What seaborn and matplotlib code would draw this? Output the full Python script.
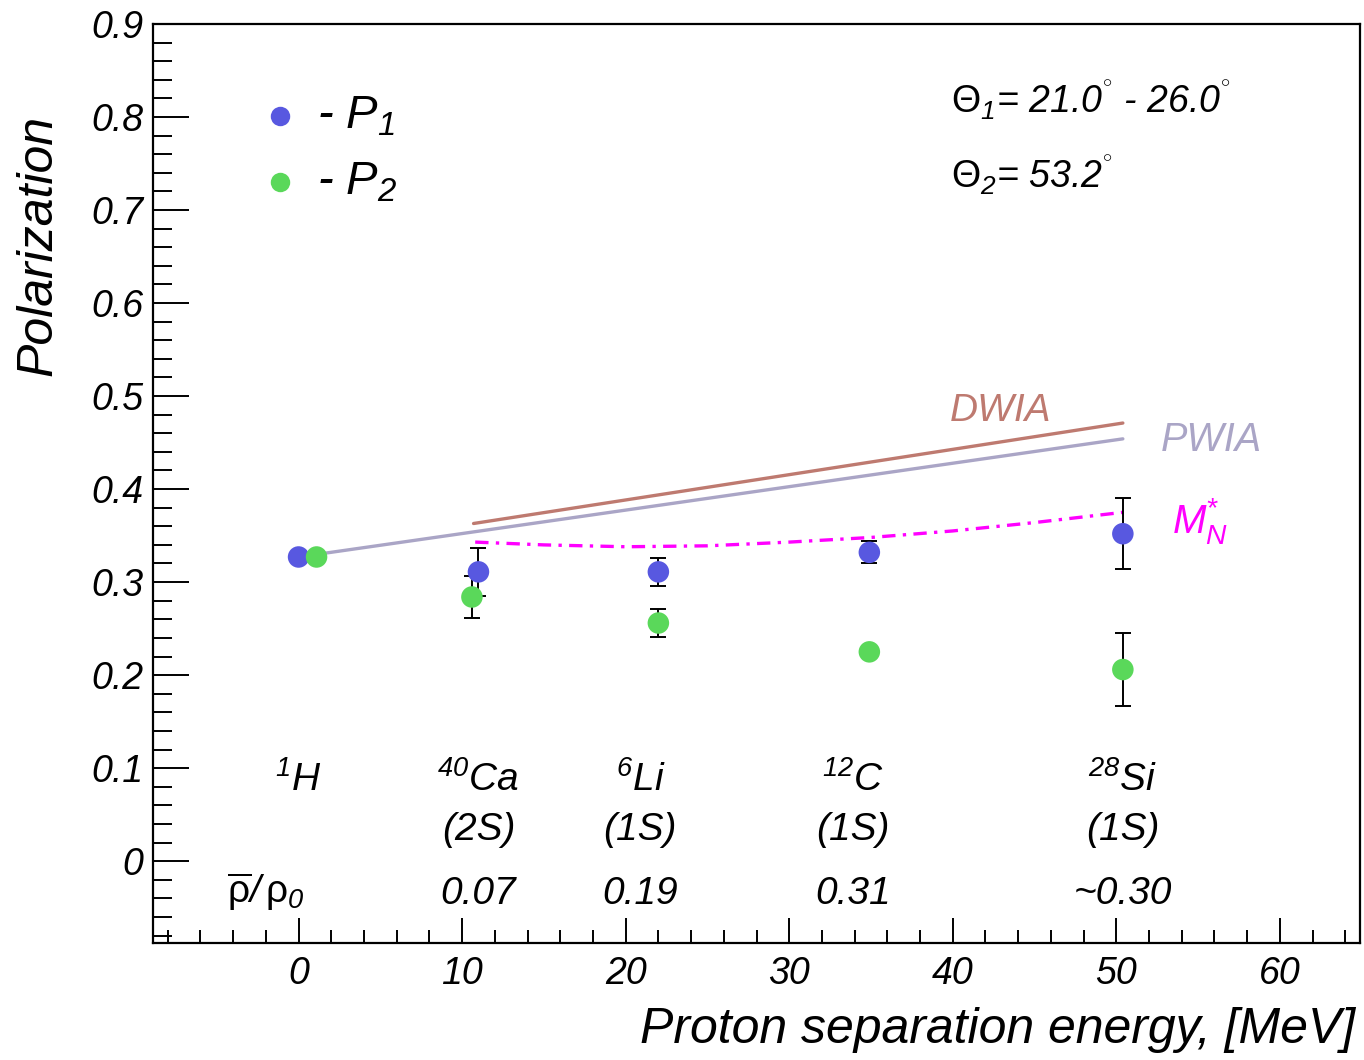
import numpy as np
import pandas as pd
import matplotlib
matplotlib.use("Agg")
import matplotlib.pyplot as plt
import seaborn as sns

# ---------------- data ----------------
x_p1 = [0.0, 11.0, 22.0, 34.9, 50.4]
p1 = [0.327, 0.311, 0.311, 0.332, 0.352]
p1_err = [0.0, 0.026, 0.015, 0.012, 0.038]

x_p2 = [1.1, 10.6, 22.0, 34.9, 50.4]
p2 = [0.327, 0.284, 0.256, 0.225, 0.206]
p2_err = [0.0, 0.023, 0.015, 0.006, 0.039]

pwia_x = [0.0, 50.4]
pwia_y = [0.327, 0.454]
dwia_x = [10.7, 50.4]
dwia_y = [0.363, 0.471]
mn_x = [10.8, 15.0, 20.0, 25.0, 30.0, 35.0, 40.0, 45.0, 50.4]
mn_y = [0.343, 0.340, 0.338, 0.339, 0.343, 0.348, 0.355, 0.364, 0.375]

nuclei_x = [0.0, 11.0, 20.9, 33.9, 50.4]
nuclei = [r"$^{1}$H", r"$^{40}$Ca", r"$^{6}$Li", r"$^{12}$C", r"$^{28}$Si"]
shells = ["", "(2S)", "(1S)", "(1S)", "(1S)"]
densities = ["", "0.07", "0.19", "0.31", "~0.30"]

C_BLUE = "#5858e0"
C_GREEN = "#5ad85a"
C_DWIA = "#be7a70"
C_PWIA = "#aaa5c6"
C_MN = "#ff00ff"

# ---------------- style ----------------
sns.set_style("ticks")
plt.rcParams["font.family"] = ["Liberation Sans", "DejaVu Sans"]
plt.rcParams["font.style"] = "italic"
plt.rcParams["text.color"] = "black"
plt.rcParams["axes.labelcolor"] = "black"
plt.rcParams["xtick.color"] = "black"
plt.rcParams["ytick.color"] = "black"
plt.rcParams["mathtext.fontset"] = "custom"
plt.rcParams["mathtext.rm"] = "Liberation Sans:italic"
plt.rcParams["mathtext.it"] = "Liberation Sans:italic"
plt.rcParams["mathtext.sf"] = "Liberation Sans:style=normal"

fig = plt.figure(figsize=(13.64, 10.60), dpi=100)
ax = fig.add_axes([153 / 1364, 1 - 943 / 1060, (1360 - 153) / 1364, (943 - 24) / 1060])

# theory curves
df_pw = pd.DataFrame({"x": pwia_x, "y": pwia_y})
df_dw = pd.DataFrame({"x": dwia_x, "y": dwia_y})
df_mn = pd.DataFrame({"x": mn_x, "y": mn_y})
sns.lineplot(data=df_dw, x="x", y="y", ax=ax, color=C_DWIA, lw=2.4, sort=False, estimator=None)
sns.lineplot(data=df_pw, x="x", y="y", ax=ax, color=C_PWIA, lw=2.4, sort=False, estimator=None)
sns.lineplot(data=df_mn, x="x", y="y", ax=ax, color=C_MN, lw=2.4, sort=False, estimator=None)
ax.lines[-1].set_dashes([4, 2.2, 1, 2.2])

# error bars
ax.errorbar(x_p1, p1, yerr=p1_err, fmt="none", ecolor="black", elinewidth=1.4, capsize=6, capthick=1.4, zorder=3)
ax.errorbar(x_p2, p2, yerr=p2_err, fmt="none", ecolor="black", elinewidth=1.4, capsize=6, capthick=1.4, zorder=3)

df1 = pd.DataFrame({"x": x_p1, "y": p1})
df2 = pd.DataFrame({"x": x_p2, "y": p2})
sns.scatterplot(data=df1, x="x", y="y", ax=ax, color=C_BLUE, s=240, edgecolor="none", zorder=4)
sns.scatterplot(data=df2, x="x", y="y", ax=ax, color=C_GREEN, s=240, edgecolor="none", zorder=4)

# axes
ax.set_xlim(-8.9, 64.9)
ax.set_ylim(-0.088, 0.9)
ax.set_xlabel("")
ax.set_ylabel("")
ax.set_xticks(np.arange(0, 61, 10))
ax.set_xticks(np.arange(-8, 65, 2), minor=True)
ax.set_yticks(np.arange(0, 0.91, 0.1))
ax.set_yticks(np.arange(-0.08, 0.901, 0.02), minor=True)
ax.set_yticklabels(["0", "0.1", "0.2", "0.3", "0.4", "0.5", "0.6", "0.7", "0.8", "0.9"])
ax.tick_params(axis="y", which="major", direction="in", length=26, width=1.4, labelsize=27, pad=7)
ax.tick_params(axis="y", which="minor", direction="in", length=13.5, width=1.4)
ax.tick_params(axis="x", which="major", direction="in", length=18, width=1.4, labelsize=27, pad=9)
ax.tick_params(axis="x", which="minor", direction="in", length=9.5, width=1.4)
for s in ax.spines.values():
    s.set_linewidth(1.6)
    s.set_color("black")

ax.text(-0.095, 0.901, "Polarization", transform=ax.transAxes, rotation=90,
        ha="center", va="top", fontsize=36)
ax.text(0.996, -0.095, "Proton separation energy, [MeV]", transform=ax.transAxes,
        ha="right", va="center", fontsize=36)

# legend (manual)
ax.plot([0.1055], [0.8995], "o", color=C_BLUE, ms=14, mec="none", transform=ax.transAxes)
ax.plot([0.1055], [0.8277], "o", color=C_GREEN, ms=14, mec="none", transform=ax.transAxes)
ax.text(0.136, 0.8995, r"- P$_{1}$", transform=ax.transAxes, ha="left", va="center", fontsize=34)
ax.text(0.136, 0.8277, r"- P$_{2}$", transform=ax.transAxes, ha="left", va="center", fontsize=34)

# angles
ax.text(39.9, 0.818, r"$\mathsf{\Theta}_{1}$= 21.0$^{^{\circ}}$ - 26.0$^{^{\circ}}$", ha="left", va="center", fontsize=27)
ax.text(39.9, 0.737, r"$\mathsf{\Theta}_{2}$= 53.2$^{^{\circ}}$", ha="left", va="center", fontsize=27)

# curve labels
ax.text(42.9, 0.484, "DWIA", color=C_DWIA, ha="center", va="center", fontsize=28)
ax.text(55.8, 0.453, "PWIA", color=C_PWIA, ha="center", va="center", fontsize=28.5)
ax.text(53.4, 0.366, r"M$_{N}^{*}$", color=C_MN, ha="left", va="center", fontsize=29)

# nucleus annotations
for xn, nm, sh, de in zip(nuclei_x, nuclei, shells, densities):
    ax.text(xn, 0.087, nm, ha="center", va="center", fontsize=28)
    if sh:
        ax.text(xn, 0.033, sh, ha="center", va="center", fontsize=28)
    if de:
        ax.text(xn, -0.035, de, ha="center", va="center", fontsize=28)
ax.text(-2.0, -0.033, r"$\overline{\mathsf{\rho}}/\,\mathsf{\rho}_{0}$", ha="center", va="center", fontsize=28)

fig.savefig("out.png", dpi=100)
